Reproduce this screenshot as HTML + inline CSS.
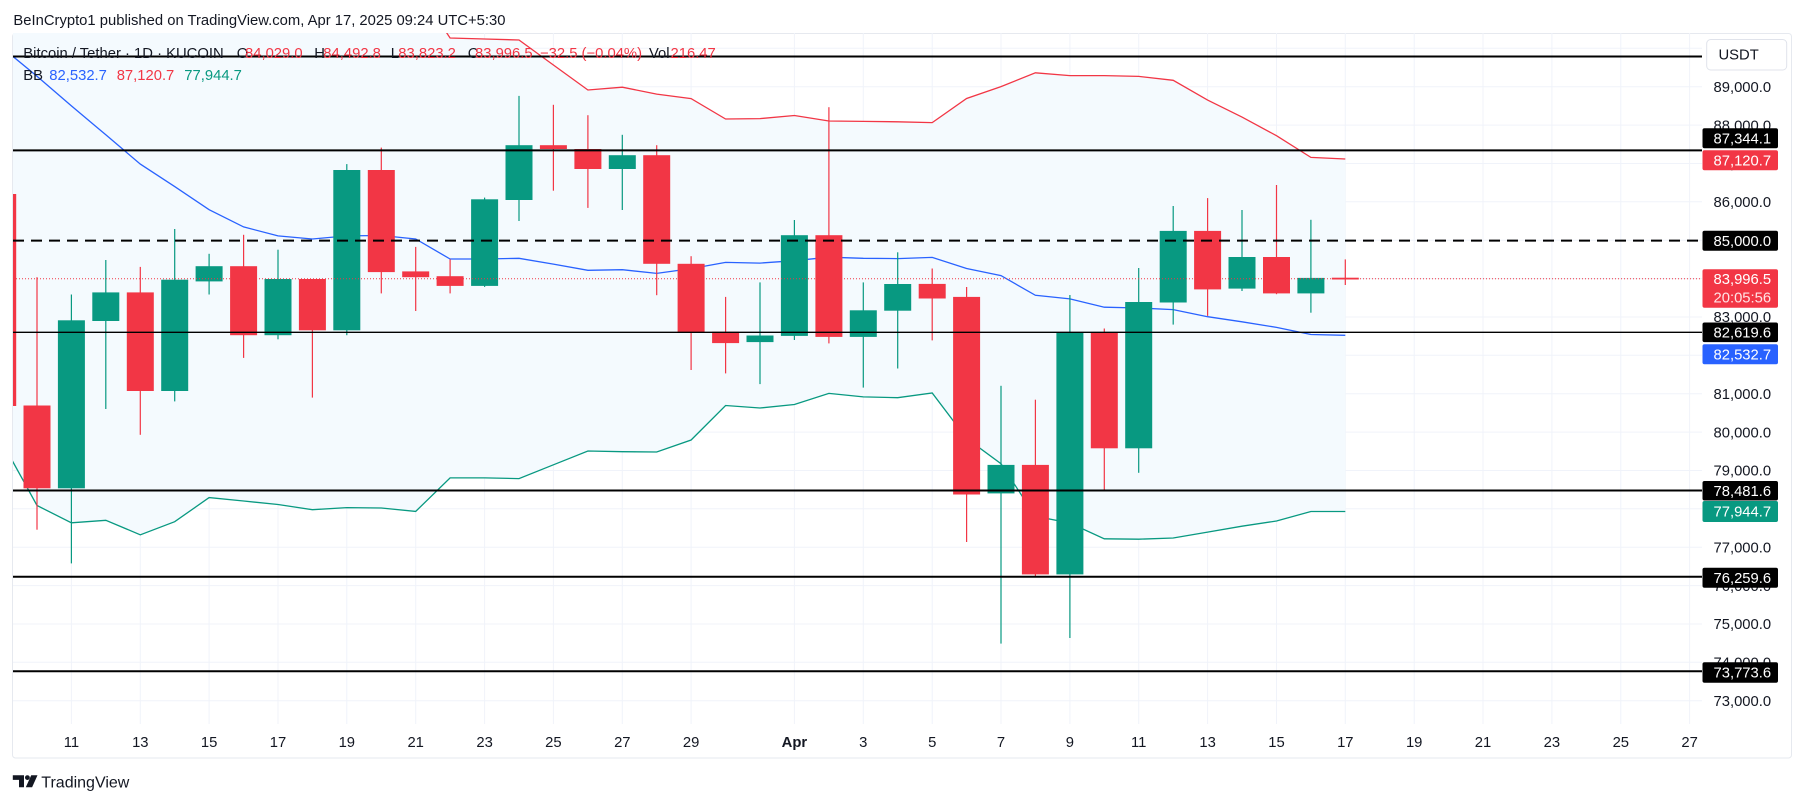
<!DOCTYPE html>
<html><head><meta charset="utf-8"><style>
html,body{margin:0;padding:0;background:#fff;}
svg{display:block;font-family:"Liberation Sans",Arial,sans-serif;}
</style></head><body>
<svg width="1805" height="803" viewBox="0 0 1805 803" xmlns="http://www.w3.org/2000/svg">
<defs><clipPath id="pc"><rect x="13" y="33" width="1689" height="691"/></clipPath></defs>
<rect x="0" y="0" width="1805" height="803" fill="#fff"/>
<rect x="12.5" y="33.5" width="1779" height="724.5" rx="3" fill="#fff" stroke="#e6e9ef" stroke-width="1"/>
<g stroke="#f0f3fa" stroke-width="1">
<line x1="13" x2="1702" y1="48.3" y2="48.3"/><line x1="13" x2="1702" y1="86.7" y2="86.7"/><line x1="13" x2="1702" y1="125.1" y2="125.1"/><line x1="13" x2="1702" y1="163.5" y2="163.5"/><line x1="13" x2="1702" y1="201.8" y2="201.8"/><line x1="13" x2="1702" y1="240.2" y2="240.2"/><line x1="13" x2="1702" y1="278.6" y2="278.6"/><line x1="13" x2="1702" y1="317" y2="317"/><line x1="13" x2="1702" y1="355.3" y2="355.3"/><line x1="13" x2="1702" y1="393.7" y2="393.7"/><line x1="13" x2="1702" y1="432.1" y2="432.1"/><line x1="13" x2="1702" y1="470.5" y2="470.5"/><line x1="13" x2="1702" y1="508.8" y2="508.8"/><line x1="13" x2="1702" y1="547.2" y2="547.2"/><line x1="13" x2="1702" y1="585.6" y2="585.6"/><line x1="13" x2="1702" y1="624" y2="624"/><line x1="13" x2="1702" y1="662.3" y2="662.3"/><line x1="13" x2="1702" y1="700.7" y2="700.7"/>
<line x1="71.4" x2="71.4" y1="33" y2="724"/><line x1="140.3" x2="140.3" y1="33" y2="724"/><line x1="209.1" x2="209.1" y1="33" y2="724"/><line x1="278" x2="278" y1="33" y2="724"/><line x1="346.8" x2="346.8" y1="33" y2="724"/><line x1="415.7" x2="415.7" y1="33" y2="724"/><line x1="484.6" x2="484.6" y1="33" y2="724"/><line x1="553.4" x2="553.4" y1="33" y2="724"/><line x1="622.3" x2="622.3" y1="33" y2="724"/><line x1="691.1" x2="691.1" y1="33" y2="724"/><line x1="794.4" x2="794.4" y1="33" y2="724"/><line x1="863.3" x2="863.3" y1="33" y2="724"/><line x1="932.2" x2="932.2" y1="33" y2="724"/><line x1="1001" x2="1001" y1="33" y2="724"/><line x1="1069.9" x2="1069.9" y1="33" y2="724"/><line x1="1138.7" x2="1138.7" y1="33" y2="724"/><line x1="1207.6" x2="1207.6" y1="33" y2="724"/><line x1="1276.5" x2="1276.5" y1="33" y2="724"/><line x1="1345.3" x2="1345.3" y1="33" y2="724"/><line x1="1414.2" x2="1414.2" y1="33" y2="724"/><line x1="1483" x2="1483" y1="33" y2="724"/><line x1="1551.9" x2="1551.9" y1="33" y2="724"/><line x1="1620.8" x2="1620.8" y1="33" y2="724"/><line x1="1689.6" x2="1689.6" y1="33" y2="724"/>
</g>
<g clip-path="url(#pc)">
<polygon fill="rgb(244,250,254)" points="2.5,-100 381.3,-60 415.7,-14 450.1,38 484.6,39 519,40 553.4,65 587.9,90 622.3,87.2 656.7,94.1 691.1,98.6 725.6,119 760,118.6 794.4,115.5 828.9,121 863.3,121.4 897.7,121.8 932.2,122.6 966.6,98.5 1001,86.6 1035.4,72.8 1069.9,75.6 1104.3,75.6 1138.7,76.4 1173.2,80.3 1207.6,100.1 1242,117.1 1276.5,135.7 1310.9,157.4 1345.3,159 1345.3,511.5 1310.9,511.5 1276.5,521 1242,526.2 1207.6,532.1 1173.2,538 1138.7,539.2 1104.3,538.8 1069.9,523 1035.4,516.3 1001,463.7 966.6,438.4 932.2,393 897.7,397.7 863.3,396.9 828.9,393.4 794.4,404.5 760,408 725.6,405.5 691.1,440 656.7,452 622.3,451.7 587.9,451 553.4,464.8 519,478.6 484.6,477.9 450.1,477.9 415.7,511.4 381.3,508 346.8,507.6 312.4,509.7 278,504.5 243.6,501 209.1,497.6 174.7,521.7 140.3,534.8 105.8,520.3 71.4,522.8 37,505.5 2.5,443"/>
<polyline fill="none" stroke="#f23645" stroke-width="1.3" points="2.5,-100 381.3,-60 415.7,-14 450.1,38 484.6,39 519,40 553.4,65 587.9,90 622.3,87.2 656.7,94.1 691.1,98.6 725.6,119 760,118.6 794.4,115.5 828.9,121 863.3,121.4 897.7,121.8 932.2,122.6 966.6,98.5 1001,86.6 1035.4,72.8 1069.9,75.6 1104.3,75.6 1138.7,76.4 1173.2,80.3 1207.6,100.1 1242,117.1 1276.5,135.7 1310.9,157.4 1345.3,159"/>
<polyline fill="none" stroke="#2962ff" stroke-width="1.3" points="2.5,47.9 37,76.2 71.4,105.9 105.8,134.8 140.3,164.1 174.7,186.6 209.1,209.7 243.6,226.9 278,235.9 312.4,239 346.8,235.9 381.3,235.5 415.7,239 450.1,259 484.6,259 519,258.3 553.4,264.1 587.9,270.3 622.3,269.7 656.7,273.4 691.1,268.6 725.6,262.4 760,263.1 794.4,260.7 828.9,257.2 863.3,258.3 897.7,258.6 932.2,257.4 966.6,268.5 1001,275.6 1035.4,295.3 1069.9,298.9 1104.3,307.2 1138.7,308 1173.2,309.6 1207.6,316.7 1242,321.8 1276.5,327.4 1310.9,334.5 1345.3,335.3"/>
<polyline fill="none" stroke="#089981" stroke-width="1.3" points="2.5,443 37,505.5 71.4,522.8 105.8,520.3 140.3,534.8 174.7,521.7 209.1,497.6 243.6,501 278,504.5 312.4,509.7 346.8,507.6 381.3,508 415.7,511.4 450.1,477.9 484.6,477.9 519,478.6 553.4,464.8 587.9,451 622.3,451.7 656.7,452 691.1,440 725.6,405.5 760,408 794.4,404.5 828.9,393.4 863.3,396.9 897.7,397.7 932.2,393 966.6,438.4 1001,463.7 1035.4,516.3 1069.9,523 1104.3,538.8 1138.7,539.2 1173.2,538 1207.6,532.1 1242,526.2 1276.5,521 1310.9,511.5 1345.3,511.5"/>
<!-- candles -->
<g fill="#f23645">
<rect x="13" y="194" width="3.2" height="212"/>
<rect x="36.4" y="277.2" width="1.2" height="252.5"/><rect x="23.5" y="405.5" width="27" height="82.8"/>
<rect x="139.7" y="266.9" width="1.2" height="167.9"/><rect x="126.8" y="292.4" width="27" height="98.6"/>
<rect x="243" y="234.8" width="1.2" height="123.1"/><rect x="230.1" y="266.2" width="27" height="69"/>
<rect x="311.8" y="279" width="1.2" height="118.6"/><rect x="298.9" y="279" width="27" height="51.3"/>
<rect x="380.7" y="147.6" width="1.2" height="145.8"/><rect x="367.8" y="170" width="27" height="102.1"/>
<rect x="415.1" y="246.9" width="1.2" height="64.1"/><rect x="402.2" y="271.4" width="27" height="5.8"/>
<rect x="449.5" y="259.3" width="1.2" height="34.1"/><rect x="436.6" y="276.2" width="27" height="9.7"/>
<rect x="552.8" y="104.8" width="1.2" height="85.9"/><rect x="539.9" y="145.2" width="27" height="3.8"/>
<rect x="587.3" y="115.2" width="1.2" height="92.7"/><rect x="574.4" y="149" width="27" height="20"/>
<rect x="656.1" y="145.2" width="1.2" height="150"/><rect x="643.2" y="155.2" width="27" height="108.6"/>
<rect x="690.5" y="256.2" width="1.2" height="113.8"/><rect x="677.6" y="263.8" width="27" height="68.6"/>
<rect x="725" y="296.9" width="1.2" height="76.5"/><rect x="712.1" y="331.7" width="27" height="11.4"/>
<rect x="828.3" y="107.2" width="1.2" height="236.2"/><rect x="815.4" y="235.2" width="27" height="101.7"/>
<rect x="931.6" y="268.5" width="1.2" height="71.9"/><rect x="918.7" y="283.9" width="27" height="14.6"/>
<rect x="966" y="287" width="1.2" height="255"/><rect x="953.1" y="296.9" width="27" height="197.6"/>
<rect x="1034.8" y="399.7" width="1.2" height="176.3"/><rect x="1021.9" y="464.9" width="27" height="109.5"/>
<rect x="1103.7" y="328.5" width="1.2" height="162.1"/><rect x="1090.8" y="332.5" width="27" height="115.8"/>
<rect x="1207" y="198.1" width="1.2" height="117.8"/><rect x="1194.1" y="230.9" width="27" height="58.5"/>
<rect x="1275.9" y="185" width="1.2" height="109.2"/><rect x="1263" y="257" width="27" height="36.4"/>
<rect x="1344.7" y="259.4" width="1.2" height="25.6"/><rect x="1331.8" y="277.7" width="27" height="1.8"/>
</g>
<g fill="#089981">
<rect x="70.8" y="294.5" width="1.2" height="268.9"/><rect x="57.9" y="320.3" width="27" height="168"/>
<rect x="105.2" y="260" width="1.2" height="149"/><rect x="92.3" y="292.4" width="27" height="28.6"/>
<rect x="174.1" y="229" width="1.2" height="172.4"/><rect x="161.2" y="279.7" width="27" height="111.3"/>
<rect x="208.5" y="253.8" width="1.2" height="40.7"/><rect x="195.6" y="266.2" width="27" height="15.2"/>
<rect x="277.4" y="249.7" width="1.2" height="89.6"/><rect x="264.5" y="279" width="27" height="56.2"/>
<rect x="346.2" y="164.1" width="1.2" height="171.1"/><rect x="333.3" y="170" width="27" height="160.3"/>
<rect x="484" y="197.6" width="1.2" height="89.3"/><rect x="471.1" y="199.3" width="27" height="86.6"/>
<rect x="518.4" y="95.9" width="1.2" height="125.1"/><rect x="505.5" y="145.2" width="27" height="54.8"/>
<rect x="621.7" y="134.8" width="1.2" height="75.2"/><rect x="608.8" y="155.2" width="27" height="13.8"/>
<rect x="759.4" y="282.4" width="1.2" height="101.7"/><rect x="746.5" y="335.5" width="27" height="6.6"/>
<rect x="793.8" y="220" width="1.2" height="120"/><rect x="780.9" y="235.2" width="27" height="100.7"/>
<rect x="862.7" y="282.4" width="1.2" height="105.2"/><rect x="849.8" y="310.3" width="27" height="26.6"/>
<rect x="897.1" y="252.3" width="1.2" height="116.2"/><rect x="884.2" y="284" width="27" height="26.7"/>
<rect x="1000.4" y="385.8" width="1.2" height="257.8"/><rect x="987.5" y="464.9" width="27" height="28.5"/>
<rect x="1069.3" y="295" width="1.2" height="343"/><rect x="1056.4" y="332.5" width="27" height="241.9"/>
<rect x="1138.1" y="268" width="1.2" height="204.8"/><rect x="1125.2" y="302" width="27" height="146.3"/>
<rect x="1172.6" y="206" width="1.2" height="118.6"/><rect x="1159.7" y="230.9" width="27" height="71.6"/>
<rect x="1241.4" y="210" width="1.2" height="81"/><rect x="1228.5" y="257" width="27" height="31.6"/>
<rect x="1310.3" y="219.8" width="1.2" height="92.9"/><rect x="1297.4" y="277.9" width="27" height="15.5"/>
</g>
<line x1="13" x2="1702" y1="278.7" y2="278.7" stroke="#f23645" stroke-width="1" stroke-dasharray="1 2"/>
<g stroke="#000">
<line x1="13" x2="1702" y1="56.5" y2="56.5" stroke-width="2"/>
<line x1="13" x2="1702" y1="150.4" y2="150.4" stroke-width="2"/>
<line x1="13" x2="1702" y1="240.6" y2="240.6" stroke-width="2" stroke-dasharray="11 7"/>
<line x1="13" x2="1702" y1="332.3" y2="332.3" stroke-width="1.3"/>
<line x1="13" x2="1702" y1="490.5" y2="490.5" stroke-width="2"/>
<line x1="13" x2="1702" y1="576.7" y2="576.7" stroke-width="2"/>
<line x1="13" x2="1702" y1="671.3" y2="671.3" stroke-width="2"/>
</g>
</g>
<!-- header -->
<text x="13.4" y="25" font-size="14.8" fill="#131722">BeInCrypto1 published on TradingView.com, Apr 17, 2025 09:24 UTC+5:30</text>
<!-- legend -->
<g font-size="14.8">
<text x="23.3" y="58" fill="#131722">Bitcoin / Tether · 1D · KUCOIN</text>
<text x="236.7" y="58" fill="#131722">O</text><text x="245" y="58" fill="#f23645">84,029.0</text>
<text x="314.3" y="58" fill="#131722">H</text><text x="323.3" y="58" fill="#f23645">84,492.8</text>
<text x="390.7" y="58" fill="#131722">L</text><text x="398.3" y="58" fill="#f23645">83,823.2</text>
<text x="467.7" y="58" fill="#131722">C</text><text x="475" y="58" fill="#f23645">83,996.5</text>
<text x="540" y="58" fill="#f23645">−32.5 (−0.04%)</text>
<text x="649" y="58" fill="#131722">Vol</text><text x="670.5" y="58" fill="#f23645">216.47</text>
<text x="23.3" y="80" fill="#131722">BB</text>
<text x="49.3" y="80" fill="#2962ff">82,532.7</text>
<text x="116.7" y="80" fill="#f23645">87,120.7</text>
<text x="184.3" y="80" fill="#089981">77,944.7</text>
</g>
<!-- price axis -->
<rect x="1706.7" y="39.5" width="80" height="30.5" rx="4" fill="#fff" stroke="#e0e3eb"/>
<text x="1718.5" y="59.5" font-size="14.8" fill="#131722">USDT</text>
<g font-size="14.8" fill="#131722">
<text x="1713.5" y="91.9">89,000.0</text>
<text x="1713.5" y="130.3">88,000.0</text>
<text x="1713.5" y="168.7">87,000.0</text>
<text x="1713.5" y="207">86,000.0</text>
<text x="1713.5" y="283.8">84,000.0</text>
<text x="1713.5" y="322.2">83,000.0</text>
<text x="1713.5" y="360.5">82,000.0</text>
<text x="1713.5" y="398.9">81,000.0</text>
<text x="1713.5" y="437.3">80,000.0</text>
<text x="1713.5" y="475.7">79,000.0</text>
<text x="1713.5" y="514">78,000.0</text>
<text x="1713.5" y="552.4">77,000.0</text>
<text x="1713.5" y="590.8">76,000.0</text>
<text x="1713.5" y="629.2">75,000.0</text>
<text x="1713.5" y="667.5">74,000.0</text>
<text x="1713.5" y="705.9">73,000.0</text>
</g>
<g>
<rect x="1702.5" y="128.3" width="75.5" height="20" rx="2" fill="#000"/>
<rect x="1702.5" y="150.3" width="75.5" height="20" rx="2" fill="#f23645"/>
<rect x="1702.5" y="230.7" width="75.5" height="20" rx="2" fill="#000"/>
<rect x="1702.5" y="269.3" width="75.5" height="38.4" rx="2" fill="#f23645"/>
<rect x="1702.5" y="322.5" width="75.5" height="19.6" rx="2" fill="#000"/>
<rect x="1702.5" y="344.2" width="75.5" height="20" rx="2" fill="#2962ff"/>
<rect x="1702.5" y="481" width="75.5" height="19.5" rx="2" fill="#000"/>
<rect x="1702.5" y="501" width="75.5" height="21" rx="2" fill="#089981"/>
<rect x="1702.5" y="567.7" width="75.5" height="20" rx="2" fill="#000"/>
<rect x="1702.5" y="662.3" width="75.5" height="20.4" rx="2" fill="#000"/>
</g>
<g font-size="14.8" fill="#fff">
<text x="1713.5" y="143.5">87,344.1</text>
<text x="1713.5" y="165.5">87,120.7</text>
<text x="1713.5" y="245.9">85,000.0</text>
<text x="1713.5" y="284.2">83,996.5</text>
<text x="1713.5" y="302.7" fill="#ffe3e5">20:05:56</text>
<text x="1713.5" y="337.5">82,619.6</text>
<text x="1713.5" y="359.4">82,532.7</text>
<text x="1713.5" y="495.9">78,481.6</text>
<text x="1713.5" y="516.5">77,944.7</text>
<text x="1713.5" y="582.9">76,259.6</text>
<text x="1713.5" y="677.7">73,773.6</text>
</g>
<!-- time axis -->
<g font-size="14.8" fill="#131722" text-anchor="middle">
<text x="71.4" y="746.8">11</text><text x="140.3" y="746.8">13</text><text x="209.1" y="746.8">15</text><text x="278" y="746.8">17</text><text x="346.8" y="746.8">19</text><text x="415.7" y="746.8">21</text><text x="484.6" y="746.8">23</text><text x="553.4" y="746.8">25</text><text x="622.3" y="746.8">27</text><text x="691.1" y="746.8">29</text>
<text x="794.4" y="746.8" font-weight="bold">Apr</text>
<text x="863.3" y="746.8">3</text><text x="932.2" y="746.8">5</text><text x="1001" y="746.8">7</text><text x="1069.9" y="746.8">9</text><text x="1138.7" y="746.8">11</text><text x="1207.6" y="746.8">13</text><text x="1276.5" y="746.8">15</text><text x="1345.3" y="746.8">17</text><text x="1414.2" y="746.8">19</text><text x="1483" y="746.8">21</text><text x="1551.9" y="746.8">23</text><text x="1620.8" y="746.8">25</text><text x="1689.6" y="746.8">27</text>
</g>
<!-- logo -->
<g fill="#131722">
<path d="M12.8,775.3 h11.2 v12 h-5 v-7.4 h-6.2 z"/>
<circle cx="27.4" cy="777.6" r="2.4"/>
<path d="M31.2,775.3 h6.3 l-5.4,12 h-6.3 z"/>
</g>
<text x="41.3" y="787.3" font-size="16" fill="#131722">TradingView</text>
</svg>
</body></html>
